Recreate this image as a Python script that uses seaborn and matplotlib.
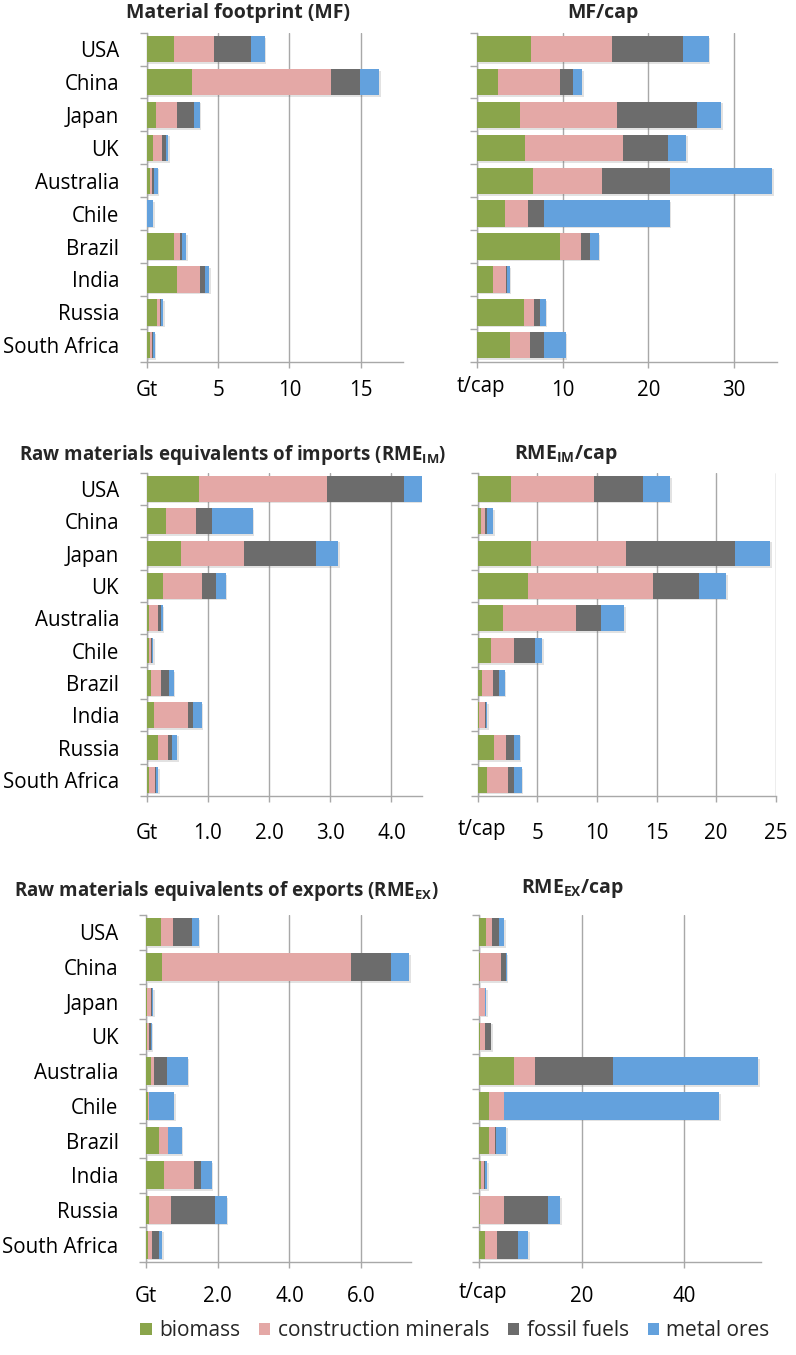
import matplotlib
matplotlib.use("Agg")
import matplotlib.pyplot as plt
import matplotlib.patheffects as pe
import matplotlib.transforms as mtransforms
from matplotlib.patches import Patch
import seaborn as sns
import pandas as pd
import numpy as np

countries = ["USA", "China", "Japan", "UK", "Australia", "Chile", "Brazil",
             "India", "Russia", "South Africa"]
categories = ["biomass", "construction minerals", "fossil fuels", "metal ores"]

# Material footprint (Gt)
mf_bio = [1.92, 3.18, 0.66, 0.44, 0.26, 0.02, 1.92, 2.13, 0.75, 0.26]
mf_con = [2.83, 9.75, 1.47, 0.64, 0.11, 0.02, 0.42, 1.59, 0.19, 0.09]
mf_fos = [2.56, 1.99, 1.17, 0.30, 0.12, 0.01, 0.14, 0.38, 0.09, 0.09]
mf_met = [0.96, 1.38, 0.42, 0.12, 0.28, 0.39, 0.28, 0.26, 0.14, 0.12]

# MF per capita (t/cap)
mfc_bio = [6.32, 2.42, 5.07, 5.61, 6.51, 3.31, 9.71, 1.91, 5.46, 3.86]
mfc_con = [9.47, 7.29, 11.27, 11.43, 8.07, 2.65, 2.41, 1.44, 1.21, 2.30]
mfc_fos = [8.30, 1.52, 9.31, 5.30, 7.92, 1.92, 1.10, 0.20, 0.66, 1.72]
mfc_met = [2.97, 1.05, 2.85, 2.10, 11.96, 14.62, 1.01, 0.27, 0.70, 2.49]

# RME of imports (Gt)
im_bio = [0.86, 0.31, 0.56, 0.27, 0.04, 0.03, 0.07, 0.12, 0.18, 0.04]
im_con = [2.08, 0.50, 1.03, 0.63, 0.15, 0.035, 0.17, 0.56, 0.16, 0.10]
im_fos = [1.26, 0.26, 1.17, 0.24, 0.04, 0.015, 0.12, 0.07, 0.08, 0.02]
im_met = [0.30, 0.66, 0.37, 0.15, 0.03, 0.03, 0.08, 0.15, 0.08, 0.03]

# RME of imports per capita (t/cap)
imc_bio = [2.77, 0.25, 4.43, 4.20, 2.16, 1.12, 0.36, 0.14, 1.40, 0.78]
imc_con = [6.98, 0.37, 7.98, 10.48, 6.08, 1.93, 0.90, 0.48, 1.01, 1.77]
imc_fos = [4.14, 0.14, 9.19, 3.89, 2.12, 1.77, 0.50, 0.05, 0.64, 0.50]
imc_met = [2.27, 0.53, 2.94, 2.30, 1.91, 0.61, 0.51, 0.11, 0.48, 0.65]

# RME of exports (Gt)
ex_bio = [0.40, 0.45, 0.03, 0.02, 0.14, 0.06, 0.36, 0.49, 0.065, 0.05]
ex_con = [0.34, 5.27, 0.11, 0.045, 0.08, 0.015, 0.25, 0.84, 0.635, 0.10]
ex_fos = [0.54, 1.12, 0.02, 0.075, 0.35, 0.005, 0.01, 0.21, 1.22, 0.20]
ex_met = [0.18, 0.51, 0.03, 0.01, 0.59, 0.70, 0.37, 0.29, 0.33, 0.10]

# RME of exports per capita (t/cap)
exc_bio = [1.36, 0.13, 0.07, 0.13, 6.75, 2.01, 1.95, 0.45, 0.20, 1.17]
exc_con = [1.24, 4.16, 1.03, 0.97, 4.09, 2.86, 1.23, 0.59, 4.74, 2.27]
exc_fos = [1.36, 0.97, 0.13, 1.17, 15.20, 0.07, 0.07, 0.19, 8.50, 4.09]
exc_met = [0.91, 0.13, 0.20, 0.07, 28.44, 41.94, 2.01, 0.39, 2.34, 2.08]

colors = ["#8AA54B", "#E4A8A6", "#6C6C6C", "#63A1DD"]
grid_c = "#A8A8A8"
FS = 14.8     # labels
TFS = 14      # titles

sns.set_theme(style="white")
plt.rcParams["font.family"] = ["Open Sans", "DejaVu Sans"]
plt.rcParams["mathtext.fontset"] = "custom"
plt.rcParams["mathtext.rm"] = "Open Sans"
plt.rcParams["mathtext.bf"] = "Open Sans:bold"
plt.rcParams["mathtext.it"] = "Open Sans:italic"

W, H = 796, 1355
fig = plt.figure(figsize=(W / 100, H / 100), dpi=100)


def make_ax(x0, x1, y0, y1):
    return fig.add_axes([x0 / W, 1 - y1 / H, (x1 - x0) / W, (y1 - y0) / H])


def panel(ax, layers, xmax, ticks, ticklabels, show_names, xpad):
    df = pd.DataFrame({"country": countries})
    cum = np.cumsum(np.array(layers), axis=0)
    for i in range(3, -1, -1):
        df["v"] = cum[i]
        n_before = len(ax.patches)
        sns.barplot(data=df, x="v", y="country", order=countries, orient="h",
                    color=colors[i], saturation=1, width=0.8, ax=ax,
                    linewidth=0, zorder=3)
        if i == 3:
            for p in ax.patches[n_before:]:
                p.set_path_effects([pe.SimplePatchShadow(offset=(1.2, -1.2),
                                                         alpha=0.18,
                                                         shadow_rgbFace="#606060"),
                                    pe.Normal()])
    ax.set_xlim(0, xmax)
    ax.set_ylim(9.5, -0.5)
    ax.set_xlabel("")
    ax.set_ylabel("")
    ax.set_xticks(ticks)
    ax.set_xticklabels(ticklabels, fontsize=FS, color="black")
    ax.grid(axis="x", color=grid_c, lw=1, zorder=0)
    ax.grid(axis="y", visible=False)
    ax.set_axisbelow(True)
    for s in ["top", "right"]:
        ax.spines[s].set_visible(False)
    for s in ["left", "bottom"]:
        ax.spines[s].set_color(grid_c)
        ax.spines[s].set_linewidth(1)
    ax.tick_params(axis="x", direction="out", length=4, width=1, color=grid_c,
                   pad=xpad, bottom=True)
    ax.set_yticks(np.arange(-0.5, 10, 1), minor=True)
    ax.tick_params(axis="y", which="minor", direction="out", length=5, width=1,
                   color=grid_c, left=True)
    ax.set_yticks(range(len(countries)))
    if show_names:
        ax.set_yticklabels(countries, fontsize=FS, color="black")
    else:
        ax.set_yticklabels([])
    ax.tick_params(axis="y", which="major", length=0, pad=20)
    lab = ax.get_xticklabels()[0]
    if lab.get_text() == "t/cap":
        off = mtransforms.ScaledTranslation(3 / 72, 3 / 72, fig.dpi_scale_trans)
        lab.set_transform(lab.get_transform() + off)


# Row 1
ax1 = make_ax(146.7, 403.5, 32.7, 361.7)
panel(ax1, [mf_bio, mf_con, mf_fos, mf_met], 18, [0, 5, 10, 15],
      ["Gt", "5", "10", "15"], True, 9.5)
ax2 = make_ax(477, 776.6, 32.7, 361.7)
panel(ax2, [mfc_bio, mfc_con, mfc_fos, mfc_met], 35, [0, 10, 20, 30],
      ["t/cap", "10", "20", "30"], False, 9.5)

# Row 2
ax3 = make_ax(146.7, 422, 472.7, 796)
panel(ax3, [im_bio, im_con, im_fos, im_met], 4.5, [0, 1, 2, 3, 4],
      ["Gt", "1.0", "2.0", "3.0", "4.0"], True, 15.5)
ax4 = make_ax(477.7, 775.7, 472.7, 796)
panel(ax4, [imc_bio, imc_con, imc_fos, imc_met], 25, [0, 5, 10, 15, 20, 25],
      ["t/cap", "5", "10", "15", "20", "25"], False, 15.5)

# Row 3
ax5 = make_ax(146.3, 411, 915, 1262)
panel(ax5, [ex_bio, ex_con, ex_fos, ex_met], 7.4, [0, 2, 4, 6],
      ["Gt", "2.0", "4.0", "6.0"], True, 13.5)
ax6 = make_ax(479, 761, 915, 1262)
panel(ax6, [exc_bio, exc_con, exc_fos, exc_met], 55, [0, 20, 40],
      ["t/cap", "20", "40"], False, 13.5)

# Titles
tkw = dict(ha="center", va="center", fontweight="bold")
fig.text(238 / W, 1 - 13 / H, "Material footprint (MF)", fontsize=TFS, **tkw)
fig.text(603 / W, 1 - 13 / H, "MF/cap", fontsize=TFS, **tkw)
fig.text(233 / W, 1 - 455 / H, r"Raw materials equivalents of imports (RME$_{\mathbf{IM}}$)",
         fontsize=13.5, **tkw)
fig.text(566 / W, 1 - 455 / H, r"RME$_{\mathbf{IM}}$/cap", fontsize=TFS, **tkw)
fig.text(226 / W, 1 - 891 / H, r"Raw materials equivalents of exports (RME$_{\mathbf{EX}}$)",
         fontsize=13.5, **tkw)
fig.text(572 / W, 1 - 889 / H, r"RME$_{\mathbf{EX}}$/cap", fontsize=TFS, **tkw)

# Legend
handles = [Patch(facecolor=c, edgecolor="none", label=l) for c, l in zip(colors, categories)]
fig.legend(handles=handles, loc="center", bbox_to_anchor=(455 / W, 1 - 1331 / H),
           ncol=4, frameon=False, fontsize=15, handlelength=0.55, handleheight=0.55,
           handletextpad=0.35, columnspacing=0.9)

fig.savefig("out.png", dpi=100)
